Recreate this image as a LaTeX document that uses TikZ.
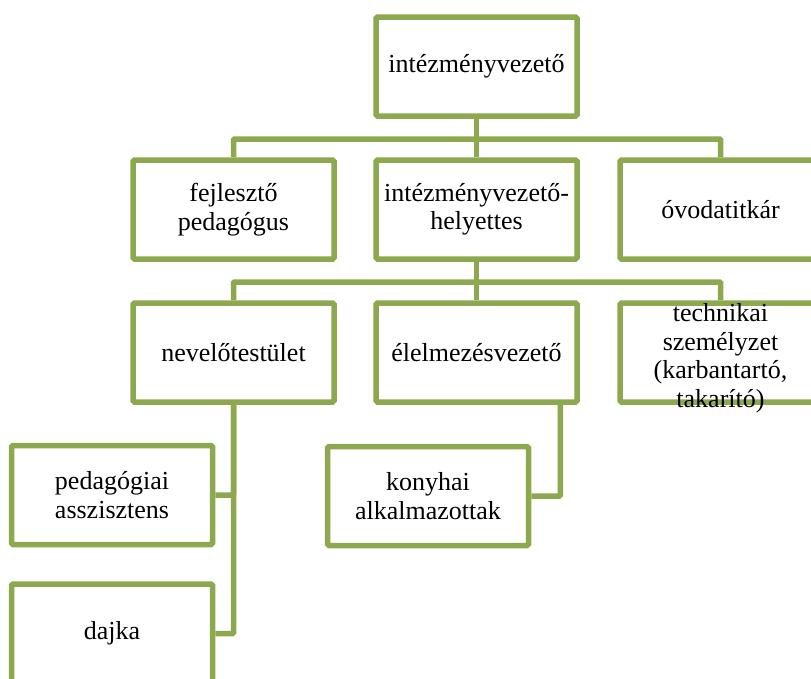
\documentclass[tikz,border=0pt]{standalone}
\usepackage{fontspec}
\setmainfont{Liberation Serif}
\usepackage{tikz}
\usetikzlibrary{positioning}
\usetikzlibrary{calc}
\definecolor{leafgreen}{RGB}{141,169,80}
\tikzstyle{orgbox}=[rectangle,draw=leafgreen,fill=white,line width=5.5pt,rounded corners=1.5pt,minimum width=201pt,minimum height=99pt,inner sep=0pt,align=center,font=\fontsize{26}{28.5}\selectfont]
\tikzstyle{link} = [draw=leafgreen,line width=5.5pt,rounded corners=1pt]

\begin{document}
\begin{tikzpicture}[x=1pt,y=-1pt]

  \clip (0,0) rectangle (811,678);
  \fill[white] (0,0) rectangle (811,678);

   \foreach \x/\y/\name/\txt in {476.5/66.5/head/intézményvezető}
          \node[orgbox] (\name) at (\x,\y) {\txt};

   \foreach \x/\y/\name/\txt in {233.5/209.5/devel/{fejlesztő\\pedagógus}, 476.5/209.5/deputy/{intézményvezető-\\helyettes}, 720.5/209.5/secretary/óvodatitkár}
          \node[orgbox] (\name) at (\x,\y) {\txt};

   % the text of tech spills over its box
   \foreach \x/\y/\name/\txt in {233.5/352.5/staff/nevelőtestület, 476.5/352.5/catering/élelmezésvezető, 720.5/352.5/tech/{\raisebox{-12.5pt}[0pt][0pt]{\begin{tabular}{@{}c@{}}technikai\\személyzet\\(karbantartó,\\takarító)\end{tabular}}}}
          \node[orgbox] (\name) at (\x,\y) {\txt};

   \foreach \x/\y/\name/\txt in {112/495/assist/{pedagógiai\\asszisztens}, 112/633.5/nanny/dajka, 428/496/kitchen/{konyhai\\alkalmazottak}}
          \node[orgbox] (\name) at (\x,\y) {\txt};

  \coordinate (bus1) at (476.5,139);
  \coordinate (bus2) at (476.5,282);

  \path[link] (head.south) -- (bus1);
  \foreach \dest in {devel, deputy, secretary}
         \path[link] (bus1) -| (\dest.north);

  \path[link] (deputy.south) -- (bus2);
  \foreach \dest in {staff, catering, tech}
         \path[link] (bus2) -| (\dest.north);

  \foreach \source/ \dest in {staff/assist, staff/nanny}
         \path[link] (\source.south) |- (\dest.east);

  \path[link] ([xshift=-19.5pt]catering.south east) |- (kitchen.east);

\end{tikzpicture}
\end{document}
